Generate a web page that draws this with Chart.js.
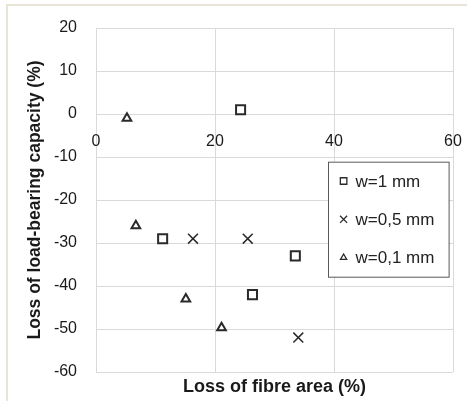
<!DOCTYPE html>
<html>
<head>
<meta charset="utf-8">
<script src="https://cdn.jsdelivr.net/npm/chart.js@4.4.1/dist/chart.umd.min.js"></script>
<style>
  html, body { margin: 0; padding: 0; background: #fff; }
  #frame { position: absolute; left: 6px; top: 4px; width: 461px; height: 397px;
           border-left: 2px solid #e8e5d6; border-top: 2px solid #e8e5d6; box-sizing: border-box; }
  #box { position: absolute; left: 0; top: 0; width: 467px; height: 401px; }
</style>
</head>
<body>
<div id="frame"></div>
<div id="box"><canvas id="chart"></canvas></div>
<script>
// loss of fibre area (x) vs loss of load-bearing capacity (y), per crack width
var seriesNames = ["w=1 mm", "w=0,5 mm", "w=0,1 mm"];
var fibreW10 = [24.3, 11.2, 33.5, 26.3];
var capacityW10 = [1, -29, -33, -42];
var fibreW05 = [16.3, 25.5, 34.0];
var capacityW05 = [-29, -29, -52];
var fibreW01 = [5.2, 6.7, 15.1, 21.1];
var capacityW01 = [-1, -26, -43, -49.7];
var xTicks = [0, 20, 40, 60];
var yTicks = [-60, -50, -40, -30, -20, -10, 0, 10, 20];

var ink = "#2a2a2a";
var gridCol = "#d9d9d9";
var fontFam = "'Liberation Sans', Arial, sans-serif";

function toPoints(xs, ys) {
  return xs.map(function (v, i) { return { x: v, y: ys[i] }; });
}

var styles = [
  { pointStyle: "rect", radius: 6.4, borderWidth: 2 },
  { pointStyle: "crossRot", radius: 7, borderWidth: 1.5 },
  { pointStyle: "triangle", radius: 5, borderWidth: 2 }
];
var values = [[fibreW10, capacityW10], [fibreW05, capacityW05], [fibreW01, capacityW01]];

var datasets = seriesNames.map(function (name, i) {
  return {
    label: name,
    data: toPoints(values[i][0], values[i][1]),
    pointStyle: styles[i].pointStyle,
    pointRadius: styles[i].radius,
    pointHoverRadius: styles[i].radius,
    pointBorderWidth: styles[i].borderWidth,
    pointBorderColor: ink,
    pointBackgroundColor: "rgba(255,255,255,0)",
    showLine: false
  };
});

// legend box drawn inside the plot area
var boxLegend = {
  id: "boxLegend",
  afterDraw: function (chart) {
    var ctx = chart.ctx, a = chart.chartArea;
    var w = 120.6, h = 115;
    var bx = a.right - 4.4 - w, by = 161.7;
    ctx.save();
    ctx.fillStyle = "#fff";
    ctx.fillRect(bx, by, w, h);
    ctx.strokeStyle = "#595959";
    ctx.lineWidth = 1;
    ctx.strokeRect(bx + 0.5, by + 0.5, w, h);
    ctx.font = "17px " + fontFam;
    ctx.textBaseline = "middle";
    var legendRadius = [4.6, 5, 3.6];
    chart.data.datasets.forEach(function (ds, i) {
      var cy = by + 19.3 + i * 38.3;
      ctx.strokeStyle = ink;
      ctx.fillStyle = "#fff";
      ctx.lineWidth = 1.3;
      Chart.helpers.drawPoint(ctx, { pointStyle: ds.pointStyle, radius: legendRadius[i], borderWidth: 1.3 }, bx + 15.6, cy);
      ctx.fillStyle = "#222";
      ctx.fillText(ds.label, bx + 27.5, cy + 1);
    });
    ctx.restore();
  }
};

new Chart(document.getElementById("chart"), {
  type: "scatter",
  data: { datasets: datasets },
  plugins: [boxLegend],
  options: {
    responsive: true,
    maintainAspectRatio: false,
    animation: false,
    layout: { padding: { top: 28, right: 14, left: 0, bottom: 0 } },
    plugins: { legend: { display: false }, tooltip: { enabled: false } },
    scales: {
      x: {
        type: "linear",
        position: "bottom",
        min: 0, max: 60,
        afterBuildTicks: function (s) { s.ticks = xTicks.map(function (v) { return { value: v }; }); },
        ticks: { display: false },
        grid: { color: gridCol, drawTicks: false },
        border: { display: false },
        title: { display: true, text: "Loss of fibre area (%)", color: "#1a1a1a",
                 font: { family: fontFam, size: 18, weight: "bold" }, padding: { top: 0, bottom: 3 } },
        afterFit: function (s) { s.height = 29; s.paddingLeft = 0; s.paddingRight = 0; }
      },
      xLabels: {
        type: "linear",
        position: { y: 0 },
        min: 0, max: 60,
        afterBuildTicks: function (s) { s.ticks = xTicks.map(function (v) { return { value: v }; }); },
        ticks: { color: "#1a1a1a", padding: 18, font: { family: fontFam, size: 16 } },
        grid: { display: false, drawTicks: false },
        border: { display: false },
        afterFit: function (s) { s.paddingLeft = 0; s.paddingRight = 0; }
      },
      y: {
        type: "linear",
        min: -60, max: 20,
        afterBuildTicks: function (s) { s.ticks = yTicks.map(function (v) { return { value: v }; }); },
        ticks: { color: "#1a1a1a", padding: 19, font: { family: fontFam, size: 16 } },
        grid: { color: gridCol, drawTicks: false },
        border: { display: false },
        title: { display: true, text: "Loss of load-bearing capacity (%)", color: "#1a1a1a",
                 font: { family: fontFam, size: 17.5, weight: "bold" }, padding: { top: 24.5, bottom: 0 } },
        afterFit: function (s) { s.width = 96; s.paddingTop = 0; s.paddingBottom = 0; }
      }
    }
  }
});
</script>
</body>
</html>
